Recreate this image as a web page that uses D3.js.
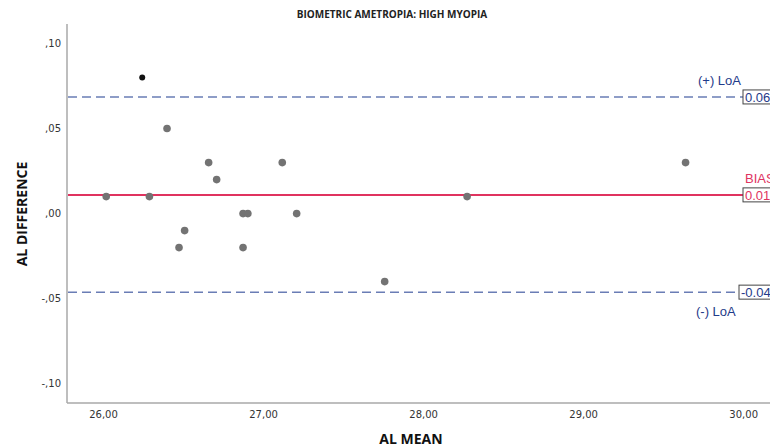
<!DOCTYPE html>
<html><head><meta charset="utf-8">
<script src="https://cdn.jsdelivr.net/npm/d3@7"></script>
<style>body{margin:0;background:#fff}svg{display:block}</style>
</head><body><svg id="c" width="770" height="448"></svg>
<script>
const title = "BIOMETRIC AMETROPIA: HIGH MYOPIA";
const xLabel = "AL MEAN";
const yLabel = "AL DIFFERENCE";
const xTicks = [26, 27, 28, 29, 30];
const xTickLabels = ["26,00", "27,00", "28,00", "29,00", "30,00"];
const yTicks = [0.10, 0.05, 0.00, -0.05, -0.10];
const yTickLabels = [",10", ",05", ",00", "-,05", "-,10"];
const alMean = [26.02, 26.29, 26.40, 26.475, 26.51, 26.66, 26.71, 26.875, 26.905, 26.875, 27.12, 27.21, 27.76, 28.275, 29.64];
const alDiff = [0.01, 0.01, 0.05, -0.02, -0.01, 0.03, 0.02, 0.00, 0.00, -0.02, 0.03, 0.00, -0.04, 0.01, 0.03];
const highlightMean = [26.245];
const highlightDiff = [0.08];
const refNames = ["(+) LoA", "BIAS", "(-) LoA"];
const refValues = [0.0686, 0.011, -0.0462];
const refLabels = ["0.069", "0.011", "-0.046"];

(function () {
const svg = d3.select("#c");
const mL = 67, mR = 800, mT = 24, mB = 403;
const x = d3.scaleLinear().domain([25.775, 30.355]).range([mL, mR]);
const y = d3.scaleLinear().domain([-0.1114, 0.1115]).range([mB, mT]);

svg.append("text").attr("x", 392).attr("y", 18).attr("text-anchor", "middle")
  .attr("font-family", "'Open Sans', sans-serif").attr("font-weight", "bold").attr("font-size", 10)
  .attr("fill", "#222").text(title);

const xa = svg.append("g").attr("transform", `translate(0,${mB})`)
  .call(d3.axisBottom(x).tickValues(xTicks).tickSize(0).tickPadding(8).tickFormat((d, i) => xTickLabels[i]));
const ya = svg.append("g").attr("transform", `translate(${mL},0)`)
  .call(d3.axisLeft(y).tickValues(yTicks).tickSize(0).tickPadding(6).tickFormat((d, i) => yTickLabels[i]));
[xa, ya].forEach(g => {
  g.select(".domain").attr("stroke", "#a8a8a8").attr("stroke-width", 1.5);
  g.selectAll("text").attr("font-family", "'DejaVu Sans', sans-serif").attr("font-size", 10).attr("fill", "#333");
});
ya.select(".domain").attr("d", `M0,${mT}V${mB}`);
xa.select(".domain").attr("d", `M${mL},0H${mR}`);

svg.append("text").attr("x", 411).attr("y", 444).attr("text-anchor", "middle")
  .attr("font-family", "'Open Sans', sans-serif").attr("font-weight", "bold").attr("font-size", 14)
  .attr("fill", "#111").text(xLabel);
svg.append("text").attr("transform", "translate(27,214) rotate(-90)").attr("text-anchor", "middle")
  .attr("font-family", "'Open Sans', sans-serif").attr("font-weight", "bold").attr("font-size", 14)
  .attr("fill", "#111").text(yLabel);

const blue = "#6a7db5", red = "#e0335f", textBlue = "#1f3b8a";
refValues.forEach((v, i) => {
  const isBias = i === 1;
  svg.append("line").attr("x1", mL + 1).attr("x2", 744).attr("y1", y(v)).attr("y2", y(v))
    .attr("stroke", isBias ? red : blue).attr("stroke-width", isBias ? 2 : 1.5)
    .attr("stroke-dasharray", isBias ? null : "9,5");
  const bx = i === 2 ? 739 : 743;
  svg.append("rect").attr("x", bx).attr("y", y(v) - 7).attr("width", 45).attr("height", 14)
    .attr("fill", "#fff").attr("stroke", "#444").attr("stroke-width", 1);
  svg.append("text").attr("x", bx + 2).attr("y", y(v) + 5)
    .attr("font-family", "'Liberation Sans', Arial, sans-serif").attr("font-size", 13)
    .attr("fill", isBias ? red : textBlue).text(refLabels[i]);
});
const nameX = [698, 745, 696];
const nameY = refValues.map((v, i) => i === 2 ? y(v) + 24 : y(v) - 12);
refNames.forEach((n, i) => {
  svg.append("text").attr("x", nameX[i]).attr("y", nameY[i])
    .attr("font-family", "'Liberation Sans', Arial, sans-serif").attr("font-size", 13)
    .attr("fill", i === 1 ? red : textBlue).text(n);
});

svg.append("g").selectAll("circle").data(alMean).join("circle")
  .attr("cx", d => x(d)).attr("cy", (d, i) => y(alDiff[i])).attr("r", 3.8).attr("fill", "#737373");
svg.append("g").selectAll("circle").data(highlightMean).join("circle")
  .attr("cx", d => x(d)).attr("cy", (d, i) => y(highlightDiff[i])).attr("r", 3).attr("fill", "#111");
})();
</script></body></html>
